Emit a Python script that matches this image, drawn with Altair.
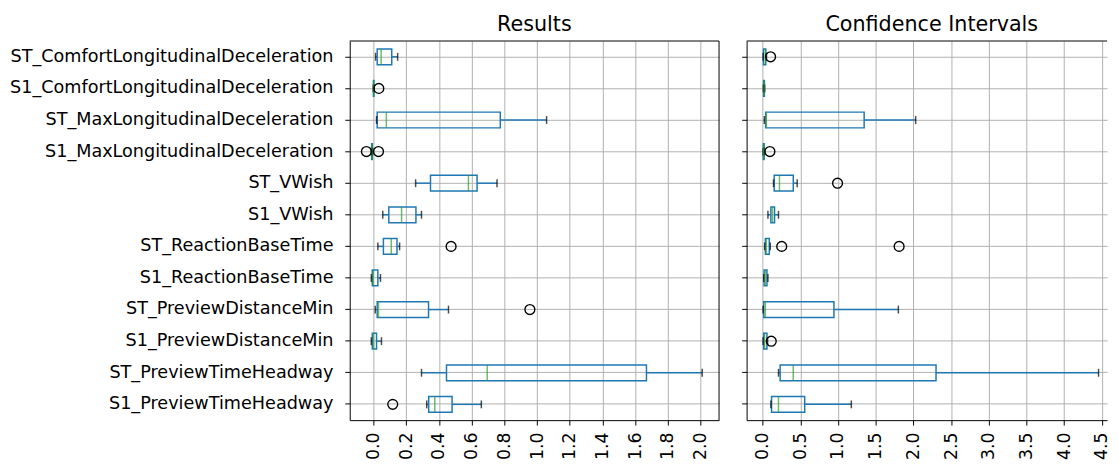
import altair as alt
import pandas as pd

categories = [
    "ST_ComfortLongitudinalDeceleration",
    "S1_ComfortLongitudinalDeceleration",
    "ST_MaxLongitudinalDeceleration",
    "S1_MaxLongitudinalDeceleration",
    "ST_VWish",
    "S1_VWish",
    "ST_ReactionBaseTime",
    "S1_ReactionBaseTime",
    "ST_PreviewDistanceMin",
    "S1_PreviewDistanceMin",
    "ST_PreviewTimeHeadway",
    "S1_PreviewTimeHeadway",
]

# Results panel (box statistics per category)
res_lo = [0.012, -0.002, 0.018, -0.014, 0.257, 0.056, 0.026, -0.014, 0.010, -0.014, 0.293, 0.325]
res_q1 = [0.022, -0.001, 0.022, -0.012, 0.348, 0.093, 0.060, -0.008, 0.022, -0.008, 0.446, 0.337]
res_med = [0.046, 0.000, 0.078, -0.010, 0.580, 0.171, 0.108, -0.002, 0.030, 0.000, 0.695, 0.374]
res_q3 = [0.111, 0.002, 0.775, -0.008, 0.633, 0.259, 0.143, 0.026, 0.336, 0.018, 1.669, 0.480]
res_hi = [0.147, 0.004, 1.058, -0.006, 0.755, 0.293, 0.159, 0.042, 0.458, 0.048, 2.010, 0.659]
res_out_cat = ["S1_ComfortLongitudinalDeceleration", "S1_MaxLongitudinalDeceleration",
               "S1_MaxLongitudinalDeceleration", "ST_ReactionBaseTime",
               "ST_PreviewDistanceMin", "S1_PreviewTimeHeadway"]
res_out_val = [0.032, -0.044, 0.030, 0.474, 0.956, 0.117]

# Confidence Intervals panel
ci_lo = [0.004, 0.008, 0.021, 0.005, 0.143, 0.069, 0.026, 0.013, 0.004, 0.004, 0.209, 0.108]
ci_q1 = [0.010, 0.012, 0.039, 0.008, 0.152, 0.108, 0.035, 0.018, 0.013, 0.013, 0.231, 0.117]
ci_med = [0.035, 0.018, 0.047, 0.013, 0.222, 0.130, 0.047, 0.035, 0.035, 0.025, 0.405, 0.209]
ci_q3 = [0.040, 0.022, 1.346, 0.018, 0.405, 0.157, 0.087, 0.056, 0.945, 0.056, 2.300, 0.557]
ci_hi = [0.050, 0.026, 2.030, 0.022, 0.457, 0.209, 0.100, 0.069, 1.800, 0.065, 4.457, 1.176]
ci_out_cat = ["ST_ComfortLongitudinalDeceleration", "S1_MaxLongitudinalDeceleration",
              "ST_VWish", "ST_ReactionBaseTime", "ST_ReactionBaseTime",
              "S1_PreviewDistanceMin"]
ci_out_val = [0.104, 0.095, 0.993, 0.252, 1.810, 0.113]

res_ticks = [0.0, 0.2, 0.4, 0.6, 0.8, 1.0, 1.2, 1.4, 1.6, 1.8, 2.0]
ci_ticks = [0.0, 0.5, 1.0, 1.5, 2.0, 2.5, 3.0, 3.5, 4.0, 4.5]

BLUE = "#1f77b4"
GREEN = "#2ca02c"
H = 385


def panel(lo, q1, med, q3, hi, ocat, oval, domain, ticks, title, width, show_labels,
          right_spine, title_dx):
    box = pd.DataFrame({"cat": categories, "lo": lo, "q1": q1, "med": med, "q3": q3, "hi": hi})
    out = pd.DataFrame({"cat": ocat, "val": oval})
    xs = alt.Scale(domain=domain, nice=False, zero=False)
    ys = alt.Scale(domain=categories, paddingInner=0, paddingOuter=0)
    xax = alt.Axis(values=ticks, format=".1f", labelAngle=270, title=None, grid=True,
                   labelPadding=7, labelLimit=0)
    yax = alt.Axis(title=None, labels=show_labels, labelPadding=12, grid=True, labelLimit=0,
                   labelFontSize=17.9)

    def X(f):
        return alt.X(f, type="quantitative", scale=xs, axis=xax)

    Y = alt.Y("cat:N", sort=categories, scale=ys, axis=yax)

    base = alt.Chart(box)
    w1 = base.mark_rule(color=BLUE, strokeWidth=1.5).encode(x=X("lo"), x2="q1", y=Y)
    w2 = base.mark_rule(color=BLUE, strokeWidth=1.5).encode(x=X("q3"), x2="hi", y=Y)
    bx = base.mark_bar(size=16, fillOpacity=0, stroke=BLUE, strokeWidth=1.5).encode(
        x=X("q1"), x2="q3", y=Y)
    c1 = base.mark_tick(color="black", size=8, thickness=1.5).encode(x=X("lo"), y=Y)
    c2 = base.mark_tick(color="black", size=8, thickness=1.5).encode(x=X("hi"), y=Y)
    md = base.mark_tick(color=GREEN, size=16, thickness=1.5).encode(x=X("med"), y=Y)
    pts = alt.Chart(out).mark_point(shape="circle", filled=False, color="black",
                                    size=100, strokeWidth=1.4, opacity=1).encode(x=X("val"), y=Y)
    one = alt.Data(values=[{"k": 1}])
    top = alt.Chart(one).mark_rule(color="black", strokeWidth=1).encode(
        x=alt.value(0), x2=alt.value(width), y=alt.value(0))
    layers = [w1, w2, bx, c1, c2, md, pts, top]
    if right_spine:
        rs = alt.Chart(one).mark_rule(color="black", strokeWidth=1).encode(
            x=alt.value(width), y=alt.value(0), y2=alt.value(H))
        layers.append(rs)
    return alt.layer(*layers).properties(
        width=width, height=H,
        title=alt.TitleParams(title, offset=6, dx=title_dx))


left = panel(res_lo, res_q1, res_med, res_q3, res_hi, res_out_cat, res_out_val,
             [-0.146, 2.113], res_ticks, "Results", 375, True, True, 0)
right = panel(ci_lo, ci_q1, ci_med, ci_q3, ci_hi, ci_out_cat, ci_out_val,
              [-0.214, 4.57], ci_ticks, "Confidence Intervals", 366, False, False, 5)

chart = alt.hconcat(left, right, spacing=21).resolve_scale(
    x="independent", y="independent"
).properties(
    padding={"left": 0, "top": 2, "right": 0, "bottom": 0}
).configure_view(stroke="transparent").configure_axis(
    labelFont="DejaVu Sans", labelFontSize=17.6, labelColor="black",
    domainColor="black", domainWidth=1, tickColor="black", tickSize=5, tickWidth=1,
    gridColor="#b0b0b0", gridWidth=1, gridOpacity=1,
).configure_title(
    font="DejaVu Sans", fontSize=21, fontWeight="normal", color="black"
)

chart.save("out.html", embed_options={"renderer": "svg", "actions": False})
